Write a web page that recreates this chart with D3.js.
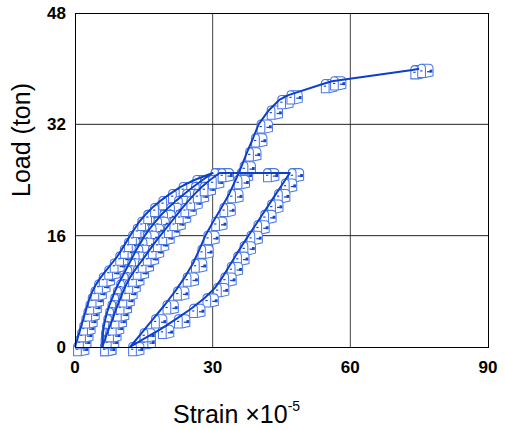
<!DOCTYPE html>
<html>
<head>
<meta charset="utf-8">
<script src="https://cdn.jsdelivr.net/npm/d3@7"></script>
<style>
  html, body { margin: 0; padding: 0; background: #fff; }
  svg { display: block; }
  .tick-label { font-family: "Liberation Sans", Arial, sans-serif; font-weight: bold; font-size: 17px; fill: #000; }
  .axis-title { font-family: "Liberation Sans", Arial, sans-serif; font-size: 25px; fill: #000; }
</style>
</head>
<body>
<svg id="chart" width="505" height="430"></svg>
<script>
// Axis ticks
const xTicks = [0, 30, 60, 90];
const yTicks = [0, 16, 32, 48];

// First loading, 0 -> 25 ton
const load1   = [0,1,2,3,4,5,6,7,8,9,10,11,12,13,14,15,16,17,18,19,20,21,22,23,24,25];
const strain1 = [0,0.45,0.9,1.35,1.8,2.25,2.7,3.2,3.8,4.6,5.6,6.8,8.0,9.2,10.2,11.1,12.0,13.0,14.0,15.3,16.8,18.6,20.7,23.0,26.0,30.0];

// First unloading, 25 -> 0 ton
const load2   = [25,24,23,22,21,20,19,18,17,16,15,14,13,12,11,10,9,8,7,6,5,4,3,2,1,0];
const strain2 = [30.0,27.8,25.7,23.8,22.0,20.3,18.8,17.5,16.3,15.2,14.3,13.4,12.6,11.8,11.0,10.2,9.4,8.7,8.1,7.5,7.0,6.6,6.3,6.1,6.0,5.9];

// Reloading, 0 -> 25 ton
const load3   = [0,1,2,3,4,5,6,7,8,9,10,11,12,13,14,15,16,17,18,19,20,21,22,23,24,25];
const strain3 = [5.9,6.5,7.0,7.6,8.2,8.7,9.3,9.9,10.5,11.2,12.0,13.0,14.1,15.2,16.3,17.4,18.6,19.8,21.0,22.2,23.4,24.7,26.1,27.6,29.4,31.5];

// Sustained load at 25 ton
const load4   = [25,25,25];
const strain4 = [35.7,41.4,46.8];

// Second unloading, 25 -> 0 ton
const load5   = [23.5,22,20.5,19,17.5,16,14.5,13,11.5,10,8.5,7,5.5,4,2.5,1,0];
const strain5 = [45.3,43.8,42.3,40.8,39.3,37.8,36.3,34.9,33.5,32.1,30.5,28.2,25.3,22.0,18.5,14.5,12.0];

// Final loading up to 40 ton
const load6   = [2,4,6,8,10,12,14,16,18,20,22,24,26,28,30,32,34,35.5,36.2,37.8,38.2,39.8,40];
const strain6 = [14.5,17.0,19.5,21.8,23.9,25.7,27.1,28.4,30.1,31.9,33.6,35.0,36.3,37.5,38.8,40.0,42.2,44.5,46.5,54.0,56.0,73.5,75.0];

const phases = [
  [strain1, load1], [strain2, load2], [strain3, load3],
  [strain4, load4], [strain5, load5], [strain6, load6]
];
const points = [];
phases.forEach(([s, l]) => s.forEach((v, i) => points.push({ strain: v, load: l[i] })));

const margin = { left: 75, right: 17, top: 13, bottom: 83 };
const width = 505, height = 430;

const x = d3.scaleLinear().domain([0, 90]).range([margin.left, width - margin.right]);
const y = d3.scaleLinear().domain([0, 48]).range([height - margin.bottom, margin.top]);

const svg = d3.select("#chart");

// Mailbox-shaped marker symbol
const defs = svg.append("defs");
const mb = defs.append("g").attr("id", "mailbox").attr("transform", "scale(1.15)");
mb.append("path")
  .attr("d", "M0.5,12 L0.5,4 C0.5,1.8 1.8,0.5 3.8,0.5 L10.2,0.5 C12.4,0.5 13.8,2 13.8,4.2 L13.8,10.5 L7.2,12 Z")
  .attr("fill", "#fff").attr("stroke", "#4a78e6").attr("stroke-width", 0.9);
mb.append("path")
  .attr("d", "M7.2,12 L7.2,4 C7.2,1.8 5.8,0.5 3.8,0.5")
  .attr("fill", "none").attr("stroke", "#4a78e6").attr("stroke-width", 0.9);
mb.append("path")
  .attr("d", "M8.6,7 L11.5,7")
  .attr("stroke", "#1846c8").attr("stroke-width", 1.1);
mb.append("rect").attr("x", 10.8).attr("y", 5.2).attr("width", 2.4).attr("height", 2.6).attr("fill", "#1846c8");
mb.append("path")
  .attr("d", "M2.6,6.3 L4.6,6.3")
  .attr("stroke", "#1846c8").attr("stroke-width", 1);

// Grid
const grid = svg.append("g");
grid.selectAll("line.gx").data(xTicks.slice(1, -1)).join("line")
  .attr("x1", d => x(d)).attr("x2", d => x(d))
  .attr("y1", y(0)).attr("y2", y(48))
  .attr("stroke", "#444").attr("stroke-width", 1);
grid.selectAll("line.gy").data(yTicks.slice(1, -1)).join("line")
  .attr("x1", x(0)).attr("x2", x(90))
  .attr("y1", d => y(d)).attr("y2", d => y(d))
  .attr("stroke", "#222").attr("stroke-width", 1);

// Markers under the line
svg.append("g").selectAll("use").data(points).join("use")
  .attr("href", "#mailbox")
  .attr("x", d => x(d.strain) - 2)
  .attr("y", d => y(d.load) - 5);

// Load-strain path
const line = d3.line().x(d => x(d.strain)).y(d => y(d.load));
svg.append("path")
  .datum(points)
  .attr("d", line)
  .attr("fill", "none")
  .attr("stroke", "#0d40c8")
  .attr("stroke-width", 2)
  .attr("stroke-linejoin", "round");

// Frame
svg.append("rect")
  .attr("x", x(0) + 0.5).attr("y", y(48) + 0.5)
  .attr("width", x(90) - x(0)).attr("height", y(0) - y(48))
  .attr("fill", "none").attr("stroke", "#000").attr("stroke-width", 1);

// Tick labels
svg.append("g").selectAll("text").data(xTicks).join("text")
  .attr("class", "tick-label")
  .attr("x", d => x(d)).attr("y", y(0) + 26)
  .attr("text-anchor", "middle")
  .text(d => d);
svg.append("g").selectAll("text").data(yTicks).join("text")
  .attr("class", "tick-label")
  .attr("x", x(0) - 9).attr("y", d => y(d))
  .attr("dy", "0.36em")
  .attr("text-anchor", "end")
  .text(d => d);

// Axis titles
const xt = svg.append("text").attr("class", "axis-title")
  .attr("x", 173).attr("y", 423);
xt.append("tspan").text("Strain \u00d710");
xt.append("tspan").attr("dy", -12).style("font-size", "14px").text("-5");

svg.append("text").attr("class", "axis-title")
  .attr("transform", "translate(30,140) rotate(-90)")
  .attr("text-anchor", "middle")
  .text("Load (ton)");
</script>
</body>
</html>
